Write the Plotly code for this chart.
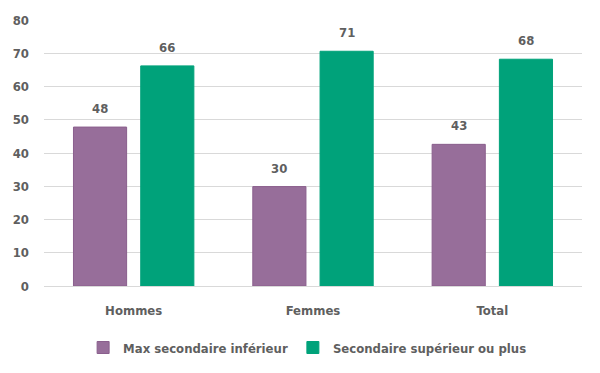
import plotly.graph_objects as go

categories = ["Hommes", "Femmes", "Total"]
max_sec_inf = [47.8, 29.9, 42.6]
sec_sup_plus = [66.2, 70.6, 68.2]
series_names = ["Max secondaire inférieur", "Secondaire supérieur ou plus"]
y_ticks = [0, 10, 20, 30, 40, 50, 60, 70, 80]

FONT = "DejaVu Sans Condensed"
TXT = "#5F5F5F"
FS = 13
W = "bold"

fig = go.Figure()
fig.add_trace(go.Bar(
    x=categories, y=max_sec_inf, name=series_names[0],
    marker=dict(color="#976E9A", line=dict(color="#8A5F8D", width=1)),
))
fig.add_trace(go.Bar(
    x=categories, y=sec_sup_plus, name=series_names[1],
    marker=dict(color="#00A27A", line=dict(color="#00A27A", width=1)),
))

# value labels above bars
for vals, shift in ((max_sec_inf, -33.6), (sec_sup_plus, 33.6)):
    for cat, v in zip(categories, vals):
        fig.add_annotation(x=cat, y=v, text=f"{v:.0f}", showarrow=False,
                           xshift=shift, yshift=9, yanchor="bottom",
                           font=dict(family=FONT, size=FS, color=TXT, weight=W))

fig.update_layout(
    width=600, height=373,
    margin=dict(l=44, r=18, t=20, b=87, autoexpand=False),
    plot_bgcolor="white", paper_bgcolor="white",
    barmode="group", bargap=0.25, bargroupgap=0.21,
    font=dict(family=FONT, size=FS, color=TXT, weight=W),
    showlegend=True,
    legend=dict(orientation="h", x=0.49, xanchor="center", y=-0.175, yanchor="top",
                font=dict(family=FONT, size=FS, color=TXT, weight=W), itemwidth=30,
                traceorder="normal"),
    xaxis=dict(showline=True, linecolor="#D9D9D9", linewidth=1, ticks="",
               ticklabelstandoff=12, automargin=False,
               tickfont=dict(family=FONT, size=FS, color=TXT, weight=W)),
    yaxis=dict(range=[0, 80], tickvals=y_ticks, showgrid=True, gridcolor="#D9D9D9",
               gridwidth=1, zeroline=False, showline=False, ticks="",
               ticklabelstandoff=14, automargin=False,
               tickfont=dict(family=FONT, size=FS, color=TXT, weight=W)),
)
fig.write_html("out.html", config={"displayModeBar": False},
               post_script="document.body.style.margin='0';")
